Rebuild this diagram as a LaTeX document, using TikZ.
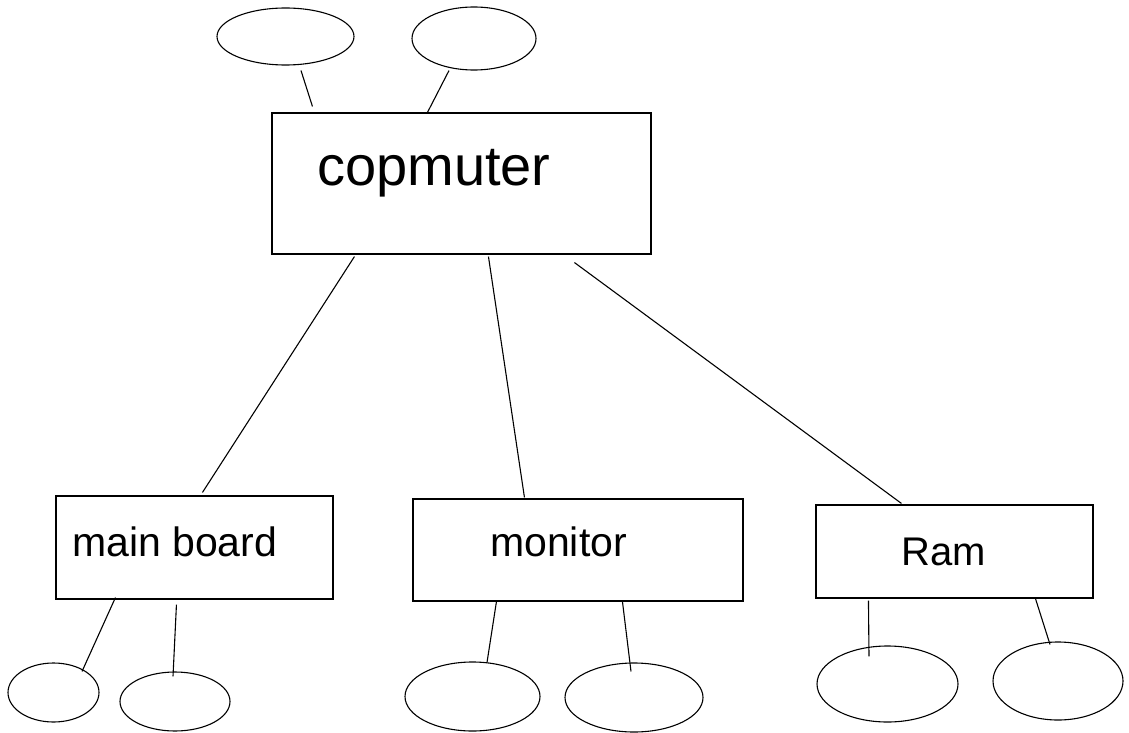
\documentclass[tikz,border=0pt]{standalone}
\usepackage{fontspec}
\setmainfont{Liberation Sans}
\usetikzlibrary{shapes.geometric,calc}
\tikzset{
  box/.style={draw, rectangle, inner sep=0pt, line width=1.1pt},
  oval/.style={draw, ellipse, inner sep=0pt, line width=1.1pt},
  lbl/.style={anchor=base west, inner sep=0pt},
  conn/.style={draw, line width=1.1pt}
}
\begin{document}
\begin{tikzpicture}[x=1pt,y=-1pt]
\fill[white] (0,0) rectangle (1129,733);
\useasboundingbox (0,0) rectangle (1129,733);
% boxes
\node[box, minimum width=379pt, minimum height=141pt] (comp) at (461.5,183.5) {};
\node[box, minimum width=277pt, minimum height=103pt] (mb) at (194.5,547.5) {};
\node[box, minimum width=330pt, minimum height=102pt] (mon) at (578,550) {};
\node[box, minimum width=277pt, minimum height=93pt] (ram) at (954.5,551.5) {};
% labels
\node[lbl, font=\fontsize{56}{60}\selectfont] (comptext) at (317,185) {copmuter};
\node[lbl, font=\fontsize{41}{46}\selectfont] (mbtext) at (72,556) {main board};
\node[lbl, font=\fontsize{41}{46}\selectfont] (montext) at (490,556) {monitor};
\node[lbl, font=\fontsize{40}{45}\selectfont] (ramtext) at (901,565) {Ram};
% ellipses
\node[oval, minimum width=137pt, minimum height=57pt] (t1) at (285.5,36.5) {};
\node[oval, minimum width=124pt, minimum height=63pt] (t2) at (474,38.5) {};
\node[oval, minimum width=91pt, minimum height=59pt] (m1) at (53.5,692.5) {};
\node[oval, minimum width=110pt, minimum height=59pt] (m2) at (175,701.5) {};
\node[oval, minimum width=135pt, minimum height=69pt] (n1) at (472.5,696.5) {};
\node[oval, minimum width=138pt, minimum height=69pt] (n2) at (634,697.5) {};
\node[oval, minimum width=141pt, minimum height=76pt] (r1) at (887.5,684) {};
\node[oval, minimum width=130pt, minimum height=78pt] (r2) at (1058,681) {};
% connectors
\draw[conn] ($(t1.south)+(15.5,5)$) -- ($(comp.north west)+(41,-6)$);
\draw[conn] ($(t2.south)+(-25,0)$) -- ($(comp.north west)+(156,0)$);
\draw[conn] ($(comp.south west)+(83,2)$) -- ($(mb.north west)+(147,-3)$);
\draw[conn] ($(comp.south west)+(217,2)$) -- ($(mon.north west)+(112,-1)$);
\draw[conn] ($(comp.south west)+(303,8)$) -- ($(ram.north west)+(86,-1)$);
\draw[conn] ($(mb.south west)+(60,-2)$) -- ($(m1.north)+(28.5,9)$);
\draw[conn] ($(mb.south west)+(121,5)$) -- ($(m2.north)+(-2,5)$);
\draw[conn] ($(mon.south west)+(84,0)$) -- ($(n1.north)+(14.5,1)$);
\draw[conn] ($(mon.south west)+(210,0)$) -- ($(n2.north)+(-3,9)$);
\draw[conn] ($(ram.south west)+(53,2)$) -- ($(r1.north)+(-18.5,11)$);
\draw[conn] ($(ram.south west)+(220,0)$) -- ($(r2.north)+(-8,3)$);
\end{tikzpicture}
\end{document}
